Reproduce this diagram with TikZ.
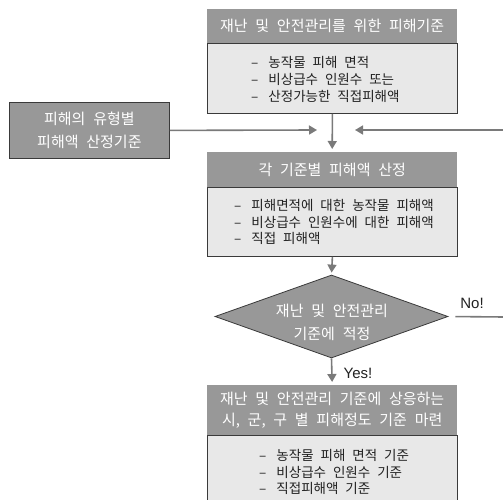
\documentclass[tikz,border=0pt]{standalone}
\usepackage{fontspec}
\setmainfont{Noto Sans CJK KR}[WordSpace=2.3]
\newfontfamily\latinfont{Liberation Sans}
\usetikzlibrary{arrows.meta,shapes.geometric}
\definecolor{hdr}{HTML}{989898}
\definecolor{bodyfill}{HTML}{E8E8E8}
\definecolor{edge}{HTML}{3A3A3A}
\definecolor{arr}{HTML}{7A7A7A}
\definecolor{txt}{HTML}{222222}
\newcommand\dd{–\hspace{10pt}}
\begin{document}
\begin{tikzpicture}[x=1pt,y=-1pt,
 header/.style={fill=hdr, text=white, minimum width=250pt, inner sep=0pt,
   font=\fontsize{15}{21}\selectfont, align=center, anchor=north west},
 bodybox/.style={fill=bodyfill, draw=edge, line width=0.8pt, minimum width=250pt,
   inner sep=0pt, anchor=north west},
 bodytext/.style={inner sep=0pt, font=\fontsize{13.5}{16.7}\selectfont, text=txt,
   align=left, anchor=west},
 graybox/.style={fill=hdr, draw=edge, line width=0.8pt, text=white, inner sep=0pt,
   font=\fontsize{15}{23}\selectfont, align=center},
 flow/.style={draw=arr, line width=1.6pt, -{Triangle[width=9pt,length=8pt]}},
 plainline/.style={draw=arr, line width=1.6pt},
 yesno/.style={font=\latinfont\fontsize{15}{18}\selectfont, text=txt, inner sep=0pt}
 ]
\useasboundingbox (0,0) rectangle (503,500);

% top box
\node[header, minimum height=34pt] (th) at (207,9) {재난 및 안전관리를 위한 피해기준};
\node[bodybox, minimum height=70pt] (tb) at (207,43) {};
\node[bodytext] (tbt) at (251,79.5) {\dd 농작물 피해 면적\\\dd 비상급수 인원수 또는\\\dd 산정가능한 직접피해액};

% left box
\node[graybox, minimum width=160pt, minimum height=56pt, anchor=north west] (lb) at (9,102) {피해의 유형별\\피해액 산정기준};

% middle box
\node[header, minimum height=35pt] (mh) at (207,152) {각 기준별 피해액 산정};
\node[bodybox, minimum height=69pt] (mb) at (207,187) {};
\node[bodytext] (mbt) at (234,222) {\dd 피해면적에 대한 농작물 피해액\\\dd 비상급수 인원수에 대한 피해액\\\dd 직접 피해액};

% diamond
\node[diamond, fill=hdr, draw=edge, line width=0.8pt, minimum width=233pt, minimum height=83pt, inner sep=0pt] (dia) at (331.5,316.5) {};
\node[text=white, font=\fontsize{15}{23}\selectfont, align=center, inner sep=0pt] (dt) at (332,322) {재난 및 안전관리\\기준에 적정};

% bottom box
\node[header, minimum height=50pt] (bh) at (207,385) {재난 및 안전관리 기준에 상응하는\\시, 군, 구 별 피해정도 기준 마련};
\node[bodybox, minimum height=74pt] (bb) at (207,435) {};
\node[bodytext] (bbt) at (259,472) {\dd 농작물 피해 면적 기준\\\dd 비상급수 인원수 기준\\\dd 직접피해액 기준};

% connectors
\coordinate (lt) at (317,130);
\coordinate (rt) at (355,130);
\coordinate (re) at (504,130);
\coordinate (ne) at (504,317);

\draw[flow, shorten >=3pt] (tb.south) -- (mh.north);
\draw[flow] (lb.east) -- (lt);
\draw[flow] (re) -- (rt);
\draw[flow, shorten >=2pt] (mb.south) -- (dia.north);
\draw[flow, shorten >=3pt] (dia.south) -- (bh.north);
\draw[plainline, shorten <=7pt] (dia.east) -- (ne);

\node[yesno] (yes) at (358,373) {Yes!};
\node[yesno] (no) at (472,303) {No!};
\end{tikzpicture}
\end{document}
